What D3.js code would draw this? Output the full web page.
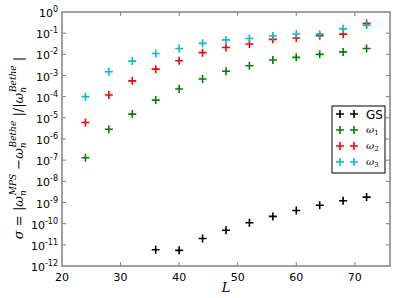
<!DOCTYPE html>
<head>
<meta charset="utf-8">
<script src="https://d3js.org/d3.v7.min.js"></script>
<style>
body { margin: 0; background: #fff; }
svg { font-family: "DejaVu Sans"; }
</style>
</head>
<body>
<script>
// system sizes L
const sizesAll = [24, 28, 32, 36, 40, 44, 48, 52, 56, 60, 64, 68, 72];
const sizesGS = [36, 40, 44, 48, 52, 56, 60, 64, 68, 72];

// relative errors
const errGS = [5.9e-12, 5.5e-12, 2.0e-11, 4.9e-11, 1.1e-10, 2.2e-10, 4.2e-10, 7.4e-10, 1.2e-9, 1.8e-9];
const errW1 = [1.3e-7, 2.9e-6, 1.5e-5, 6.9e-5, 2.3e-4, 6.8e-4, 1.6e-3, 2.9e-3, 5.4e-3, 7.2e-3, 1.0e-2, 1.3e-2, 1.9e-2];
const errW2 = [6e-6, 1.2e-4, 5.6e-4, 2e-3, 5e-3, 1.2e-2, 2.1e-2, 3.1e-2, 5.1e-2, 5.9e-2, 7.6e-2, 9e-2, 2.9e-1];
const errW3 = [1e-4, 1.5e-3, 4.8e-3, 1.1e-2, 1.9e-2, 3.3e-2, 4.8e-2, 5.6e-2, 7.3e-2, 9.1e-2, 9e-2, 1.6e-1, 2.4e-1];

const xTicks = [20, 30, 40, 50, 60, 70];
const yExps = d3.range(-12, 1);

const W = 395, H = 298;
const pLeft = 62, pRight = 390, pTop = 12, pBottom = 266;

const svg = d3.select('body').append('svg')
  .attr('width', W).attr('height', H);

const x = d3.scaleLinear().domain([20, 76]).range([pLeft, pRight]);
const y = d3.scaleLog().domain([1e-12, 1]).range([pBottom, pTop]);

// frame
svg.append('rect')
  .attr('x', pLeft).attr('y', pTop)
  .attr('width', pRight - pLeft).attr('height', pBottom - pTop)
  .attr('fill', 'none').attr('stroke', '#808080').attr('stroke-width', 1.5);

// x ticks (inward, bottom + top)
const xt = svg.append('g');
xTicks.forEach(t => {
  if (t === 20) return;
  xt.append('line').attr('x1', x(t)).attr('x2', x(t)).attr('y1', pBottom).attr('y2', pBottom - 4);
  xt.append('line').attr('x1', x(t)).attr('x2', x(t)).attr('y1', pTop).attr('y2', pTop + 4);
});
svg.append('g').selectAll('text').data(xTicks).join('text')
  .attr('x', d => x(d)).attr('y', pBottom + 15)
  .attr('text-anchor', 'middle').style('font-size', '11px')
  .text(d => d);

// y ticks
yExps.forEach(e => {
  const v = Math.pow(10, e);
  if (e !== -12 && e !== 0) {
    xt.append('line').attr('x1', pLeft).attr('x2', pLeft + 4).attr('y1', y(v)).attr('y2', y(v));
    xt.append('line').attr('x1', pRight).attr('x2', pRight - 4).attr('y1', y(v)).attr('y2', y(v));
  }
  const tx = svg.append('text')
    .attr('x', pLeft - 4).attr('y', y(v) + 5)
    .attr('text-anchor', 'end').style('font-size', '11px');
  tx.append('tspan').text('10');
  tx.append('tspan').attr('dy', -5).style('font-size', '8px').text(e === 0 ? '0' : '-' + Math.abs(e));
});
xt.selectAll('line').attr('stroke', '#808080').attr('stroke-width', 1);

// markers
function cross(g, cx, cy, color) {
  g.append('path')
    .attr('d', `M${cx - 4},${cy}H${cx + 4}M${cx},${cy - 4}V${cy + 4}`)
    .attr('stroke', color).attr('stroke-width', 1.6).attr('fill', 'none');
}
const series = [
  { name: 'GS', xs: sizesGS, ys: errGS, color: '#000000' },
  { name: '1', xs: sizesAll, ys: errW1, color: '#008000' },
  { name: '2', xs: sizesAll, ys: errW2, color: '#ff0000' },
  { name: '3', xs: sizesAll, ys: errW3, color: '#00bfbf' }
];
const pts = svg.append('g');
series.forEach(s => s.ys.forEach((v, i) => cross(pts, x(s.xs[i]), y(v), s.color)));

// legend
const lg = svg.append('g');
lg.append('rect').attr('x', 332).attr('y', 106).attr('width', 53).attr('height', 67)
  .attr('fill', '#fff').attr('stroke', '#000').attr('stroke-width', 1);
series.forEach((s, i) => {
  const ly = 114 + i * 16;
  cross(lg, 340, ly, s.color);
  cross(lg, 354, ly, s.color);
  if (s.name === 'GS') {
    lg.append('text').attr('x', 366).attr('y', ly + 4.5).style('font-size', '12px').text('GS');
  } else {
    const t = lg.append('text').attr('x', 366).attr('y', ly + 3)
      .style('font-family', 'DejaVu Serif').style('font-style', 'italic').style('font-size', '10px');
    t.append('tspan').text('ω');
    t.append('tspan').attr('dy', 2).style('font-size', '7px').style('font-style', 'normal').text(s.name);
  }
});

// x label
svg.append('text').attr('x', 226).attr('y', 292)
  .attr('text-anchor', 'middle')
  .style('font-family', 'DejaVu Serif').style('font-style', 'italic').style('font-size', '13px')
  .text('L');

// y label
const yl = svg.append('text')
  .attr('transform', 'translate(23,148) rotate(-90)')
  .attr('text-anchor', 'middle')
  .style('font-family', 'DejaVu Serif').style('font-size', '13px');
function part(txt, opts) {
  const sp = yl.append('tspan').text(txt);
  if (opts.dy) sp.attr('dy', opts.dy);
  if (opts.dx) sp.attr('dx', opts.dx);
  if (opts.size) sp.style('font-size', opts.size + 'px');
  if (opts.it) sp.style('font-style', 'italic');
  return sp;
}
part('σ', { it: 1 });
part(' = |', {});
part('ω', { it: 1 });
part('n', { it: 1, size: 9, dy: 3 });
part('MPS', { it: 1, size: 9, dy: -10, dx: -5 });
part(' −', { dy: 7 });
part('ω', { it: 1 });
part('n', { it: 1, size: 9, dy: 3 });
part('Bethe', { it: 1, size: 9, dy: -10, dx: -5 });
part(' |/|', { dy: 7 });
part('ω', { it: 1 });
part('n', { it: 1, size: 9, dy: 3 });
part('Bethe', { it: 1, size: 9, dy: -10, dx: -5 });
part(' |', { dy: 7 });
</script>
</body>
